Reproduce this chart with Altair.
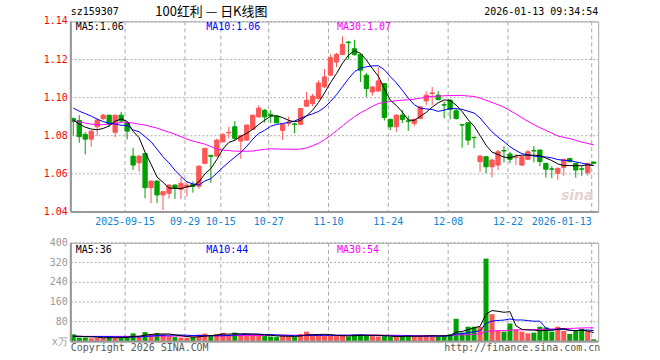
import altair as alt
import pandas as pd
import numpy as np

# ---------------- data ----------------
opens = [1.0890, 1.0880, 1.0807, 1.0782, 1.0847, 1.0890, 1.0908, 1.0818, 1.0908, 1.0868,
         1.0693, 1.0658, 1.0707, 1.0527, 1.0562, 1.0489, 1.0498, 1.0541, 1.0519, 1.0530,
         1.0545, 1.0535, 1.0655, 1.0697, 1.0693, 1.0768, 1.0815, 1.0847, 1.0772, 1.0777,
         1.0833, 1.0899, 1.0934, 1.0912, 1.0903, 1.0828, 1.0866, 1.0862, 1.0860, 1.0955,
         1.0969, 1.0996, 1.1057, 1.1118, 1.1187, 1.1227, 1.1292, 1.1257, 1.1227, 1.1118,
         1.1030, 1.1035, 1.1074, 1.0886, 1.0847, 1.0908, 1.0878, 1.0865, 1.0891, 1.0983,
         1.1022, 1.1013, 1.0963, 1.0987, 1.0931, 1.0858, 1.0868, 1.0792, 1.0664, 1.0690,
         1.0637, 1.0646, 1.0722, 1.0704, 1.0686, 1.0646, 1.0676, 1.0722, 1.0725, 1.0655,
         1.0626, 1.0603, 1.0634, 1.0681, 1.0655, 1.0626, 1.0606, 1.0662]
closes = [1.0875, 1.0795, 1.0782, 1.0824, 1.0882, 1.0908, 1.0861, 1.0908, 1.0878, 1.0824,
          1.0646, 1.0693, 1.0527, 1.0562, 1.0489, 1.0506, 1.0541, 1.0524, 1.0550, 1.0540,
          1.0533, 1.0640, 1.0734, 1.0692, 1.0777, 1.0805, 1.0818, 1.0786, 1.0800, 1.0856,
          1.0908, 1.0945, 1.0899, 1.0905, 1.0868, 1.0860, 1.0872, 1.0860, 1.0943, 1.0986,
          1.1008, 1.1077, 1.1109, 1.1210, 1.1227, 1.1280, 1.1289, 1.1227, 1.1144, 1.1048,
          1.1056, 1.1088, 1.0896, 1.0847, 1.0908, 1.0886, 1.0876, 1.0886, 1.0952, 1.1013,
          1.1025, 1.0990, 1.0961, 1.0938, 1.0891, 1.0856, 1.0777, 1.0790, 1.0693, 1.0637,
          1.0672, 1.0716, 1.0720, 1.0676, 1.0688, 1.0690, 1.0716, 1.0720, 1.0664, 1.0624,
          1.0624, 1.0629, 1.0676, 1.0664, 1.0620, 1.0624, 1.0655, 1.0655]
highs = [1.0895, 1.0908, 1.0820, 1.0830, 1.0892, 1.0915, 1.0910, 1.0910, 1.0925, 1.0870,
         1.0737, 1.0700, 1.0710, 1.0565, 1.0565, 1.0510, 1.0545, 1.0545, 1.0582, 1.0560,
         1.0560, 1.0645, 1.0736, 1.0698, 1.0785, 1.0815, 1.0847, 1.0877, 1.0805, 1.0858,
         1.0910, 1.0960, 1.0940, 1.0934, 1.0905, 1.0865, 1.0900, 1.0865, 1.0946, 1.1031,
         1.1020, 1.1090, 1.1150, 1.1227, 1.1235, 1.1322, 1.1297, 1.1304, 1.1230, 1.1130,
         1.1060, 1.1161, 1.1076, 1.0890, 1.0912, 1.0935, 1.0906, 1.0890, 1.0955, 1.1034,
         1.1056, 1.1034, 1.0980, 1.0990, 1.0945, 1.0858, 1.0870, 1.0792, 1.0700, 1.0692,
         1.0680, 1.0725, 1.0745, 1.0715, 1.0705, 1.0692, 1.0725, 1.0745, 1.0727, 1.0657,
         1.0640, 1.0632, 1.0680, 1.0683, 1.0657, 1.0640, 1.0657, 1.0664]
lows = [1.0800, 1.0763, 1.0702, 1.0742, 1.0800, 1.0882, 1.0847, 1.0793, 1.0870, 1.0780,
        1.0620, 1.0611, 1.0472, 1.0446, 1.0446, 1.0410, 1.0470, 1.0468, 1.0467, 1.0480,
        1.0501, 1.0520, 1.0650, 1.0552, 1.0690, 1.0765, 1.0786, 1.0775, 1.0680, 1.0775,
        1.0830, 1.0895, 1.0869, 1.0868, 1.0865, 1.0778, 1.0850, 1.0812, 1.0855, 1.0952,
        1.0955, 1.0990, 1.1050, 1.1115, 1.1160, 1.1225, 1.1200, 1.1220, 1.1082, 1.1004,
        1.1010, 1.1030, 1.0880, 1.0830, 1.0820, 1.0866, 1.0825, 1.0850, 1.0888, 1.0961,
        1.0961, 1.0985, 1.0891, 1.0886, 1.0885, 1.0737, 1.0751, 1.0734, 1.0611, 1.0603,
        1.0582, 1.0620, 1.0660, 1.0655, 1.0646, 1.0640, 1.0672, 1.0660, 1.0640, 1.0580,
        1.0577, 1.0568, 1.0590, 1.0660, 1.0580, 1.0590, 1.0590, 1.0652]
volumes = [29, 16, 16, 13, 16, 15, 18, 15, 16, 22,
           33, 20, 38, 30, 33, 30, 22, 18, 16, 15,
           18, 28, 32, 25, 30, 35, 28, 36, 28, 30,
           28, 25, 22, 20, 18, 24, 22, 18, 30, 40,
           28, 26, 22, 24, 22, 24, 20, 28, 30, 26,
           22, 20, 22, 18, 20, 22, 25, 20, 22, 24,
           26, 20, 24, 29, 92, 36, 60, 60, 60, 336,
           111, 45, 40, 73, 49, 40, 33, 36, 60, 57,
           40, 60, 43, 31, 45, 52, 43, 9]

# moving-average values visible before enough candles are on screen
ma5_head = [1.0882, 1.0861, 1.0845, 1.0835]
ma10_head = [1.0945, 1.0929, 1.0916, 1.0903, 1.0887, 1.0874, 1.0866, 1.0861, 1.0855]
ma30_head = [1.0876, 1.0874, 1.0866, 1.0861, 1.0858, 1.0858, 1.0861, 1.0863, 1.0871, 1.0871,
             1.0866, 1.0861, 1.0856, 1.0848, 1.0840, 1.0829, 1.0819, 1.0808, 1.0795, 1.0782,
             1.0772, 1.0764, 1.0756, 1.0743, 1.0730, 1.0725, 1.0722, 1.0719, 1.0719]
vma5_head = [22, 21, 20, 19]
vma10_head = [21, 21, 20, 20, 20, 20, 20, 19, 19]
vma30_head = [21, 21, 21, 21, 21, 21, 21, 21, 21, 21, 21, 21, 22, 22, 22, 22, 22, 22, 22, 22,
              22, 23, 23, 23, 23, 23, 23, 24, 24]

label_idx = [9, 19, 25, 33, 43, 53, 63, 73, 87]
label_txt = ["2025-09-15", "09-29", "10-15", "10-27", "11-10", "11-24", "12-08", "12-22", "2026-01-13"]
price_ticks = [1.04, 1.06, 1.08, 1.10, 1.12, 1.14]
price_tick_txt = ["1.04", "1.06", "1.08", "1.10", "1.12", "1.14"]
vol_ticks = [0, 80, 160, 240, 320, 400]
vol_tick_txt = ["x万", "80", "160", "240", "320", "400"]

# ---------------- styling ----------------
RED = "#ff5555"
GREEN = "#00a000"
MONO = "DejaVu Sans Mono"
W = 529
H1 = 191
H2 = 99
LEFT, TOP, RIGHT, BOTTOM = 70, 21, 61, 18


def moving(series, n, head):
    s = pd.Series(series, dtype=float).rolling(n).mean().tolist()
    return list(head) + s[len(head):]


n = len(closes)
idx = list(range(n))
df = pd.DataFrame({"i": idx, "open": opens, "high": highs, "low": lows,
                   "close": closes, "vol": volumes})
df["dir"] = np.where(df["close"] >= df["open"], "up", "down")
df["ma5"] = moving(closes, 5, ma5_head)
df["ma10"] = moving(closes, 10, ma10_head)
df["ma30"] = moving(closes, 30, ma30_head)
df["vma5"] = moving(volumes, 5, vma5_head)
df["vma10"] = moving(volumes, 10, vma10_head)
df["vma30"] = moving(volumes, 30, vma30_head)

labels = pd.DataFrame({"i": label_idx, "t": label_txt})
pticks = pd.DataFrame({"v": price_ticks, "t": price_tick_txt})
vticks = pd.DataFrame({"v": vol_ticks, "t": vol_tick_txt})

xs = alt.Scale(domain=[-0.4167, 87.75], nice=False, zero=False)
ys = alt.Scale(domain=[1.04, 1.14], nice=False, zero=False)
vs = alt.Scale(domain=[0, 400], nice=False, zero=False)
cscale = alt.Scale(domain=["up", "down"], range=[RED, GREEN])

base = alt.Chart(df)
one = pd.DataFrame({"t": [""]})


def X(field):
    return alt.X(field, scale=xs, axis=None)


def YP(field):
    return alt.Y(field, scale=ys, axis=None)


def YV(field):
    return alt.Y(field, scale=vs, axis=None)


def label(text, x, y, color="#000000", align="left", font=MONO, size=10, **kw):
    return alt.Chart(pd.DataFrame({"t": [text]})).mark_text(
        align=align, baseline="middle", font=font, fontSize=size, color=color, **kw).encode(
        x=alt.value(x), y=alt.value(y), text="t:N")


def edge_rules(h):
    left = alt.Chart(one).mark_rule(color="#999999", strokeWidth=2).encode(
        x=alt.value(0), y=alt.value(0), y2=alt.value(h))
    bottom = alt.Chart(one).mark_rule(color="#999999", strokeWidth=2).encode(
        x=alt.value(0), x2=alt.value(W), y=alt.value(h))
    return left, bottom


# invisible frame that fixes the page bounds (left/top/right edges)
frame_top = alt.Chart(one).mark_rule(opacity=0, strokeWidth=1, strokeCap="butt").encode(
    x=alt.value(-LEFT), x2=alt.value(W + RIGHT), y=alt.value(-TOP + 0.5))
frame_bottom = alt.Chart(one).mark_rule(opacity=0, strokeWidth=1, strokeCap="butt").encode(
    x=alt.value(-LEFT), x2=alt.value(W + RIGHT), y=alt.value(H2 + BOTTOM - 0.5))

# ---------------- price panel ----------------
vgrid_main = alt.Chart(labels).mark_rule(color="#aaaaaa", strokeDash=[4, 3], strokeWidth=1, xOffset=-2).encode(
    x=X("i:Q"), y=alt.value(0), y2=alt.value(H1))
hgrid_main = alt.Chart(pticks).mark_rule(color="#aaaaaa", strokeDash=[2, 2], strokeWidth=1).encode(
    y=YP("v:Q"), x=alt.value(0), x2=alt.value(W))
ylab_main = alt.Chart(pticks).mark_text(align="right", baseline="middle", font=MONO, fontSize=10,
                                        color="#ff0000", dx=-3).encode(
    y=YP("v:Q"), x=alt.value(0), text="t:N")

wicks = base.mark_rule(strokeWidth=1).encode(
    x=X("i:Q"), y=YP("low:Q"), y2="high:Q",
    color=alt.Color("dir:N", scale=cscale, legend=None))

bodies = base.transform_calculate(x0="datum.i - 0.36", x1="datum.i + 0.36").mark_rect(strokeWidth=1).encode(
    x=X("x0:Q"), x2="x1:Q",
    y=YP("open:Q"), y2="close:Q",
    color=alt.Color("dir:N", scale=cscale, legend=None),
    stroke=alt.Stroke("dir:N", scale=cscale, legend=None))

l5 = base.mark_line(color="#000000", strokeWidth=1).encode(x=X("i:Q"), y=YP("ma5:Q"))
l10 = base.mark_line(color="#0000ff", strokeWidth=1).encode(x=X("i:Q"), y=YP("ma10:Q"))
l30 = base.mark_line(color="#ff00ff", strokeWidth=1).encode(x=X("i:Q"), y=YP("ma30:Q"))

xlab_c = alt.Chart(labels).transform_filter("datum.i < 87").mark_text(
    align="center", baseline="middle", font=MONO, fontSize=10, color="#0a84d6", dx=-2).encode(
    x=X("i:Q"), y=alt.value(H1 + 10), text="t:N")
xlab_r = alt.Chart(labels).transform_filter("datum.i >= 87").mark_text(
    align="right", baseline="middle", font=MONO, fontSize=10, color="#0a84d6", dx=-2).encode(
    x=X("i:Q"), y=alt.value(H1 + 10), text="t:N")

m_left, m_bottom = edge_rules(H1)

main = alt.layer(
    frame_top, hgrid_main, vgrid_main, wicks, bodies, l30, l10, l5, m_left, m_bottom, ylab_main,
    label("sina", W - 21, H1 - 16, color="#e6d2d2", align="center", font="DejaVu Sans", size=14,
          fontStyle="italic", fontWeight="bold"),
    label("MA5:1.06", 5, 6),
    label("MA10:1.06", 136, 6, color="#0000ff"),
    label("MA30:1.07", 267, 6, color="#ff00ff"),
    label("sz159307", 0, -9),
    label("100红利 — 日K线图", 141, -9, align="center", font="Noto Sans CJK SC", size=13),
    label("2026-01-13 09:34:54", 529, -9, align="right"),
    xlab_c, xlab_r,
).properties(width=W, height=H1)

# ---------------- volume panel ----------------
vgrid_vol = alt.Chart(labels).mark_rule(color="#aaaaaa", strokeDash=[4, 3], strokeWidth=1, xOffset=-2).encode(
    x=X("i:Q"), y=alt.value(0), y2=alt.value(H2))
hgrid_vol = alt.Chart(vticks).mark_rule(color="#aaaaaa", strokeDash=[2, 2], strokeWidth=1).encode(
    y=YV("v:Q"), x=alt.value(0), x2=alt.value(W))
ylab_vol = alt.Chart(vticks).mark_text(align="right", baseline="middle", font=MONO, fontSize=10,
                                       color="#999999", dx=-3).encode(
    y=YV("v:Q"), x=alt.value(0), text="t:N")

vbars = base.transform_calculate(x0="datum.i - 0.42", x1="datum.i + 0.42").mark_rect().encode(
    x=X("x0:Q"), x2="x1:Q",
    y=YV("vol:Q"), y2=alt.datum(0),
    color=alt.Color("dir:N", scale=cscale, legend=None))

v5 = base.mark_line(color="#000000", strokeWidth=1).encode(x=X("i:Q"), y=YV("vma5:Q"))
v10 = base.mark_line(color="#0000ff", strokeWidth=1).encode(x=X("i:Q"), y=YV("vma10:Q"))
v30 = base.mark_line(color="#ff00ff", strokeWidth=1).encode(x=X("i:Q"), y=YV("vma30:Q"))

v_left, v_bottom = edge_rules(H2)

vol = alt.layer(
    frame_bottom, hgrid_vol, vgrid_vol, vbars, v30, v10, v5, v_left, v_bottom, ylab_vol,
    label("MA5:36", 5, 7),
    label("MA10:44", 136, 7, color="#0000ff"),
    label("MA30:54", 267, 7, color="#ff00ff"),
    label("Copyright 2026 SINA.COM", 0, H2 + 7, color="#555555"),
    label("http://finance.sina.com.cn", 531, H2 + 7, color="#555555", align="right"),
).properties(width=W, height=H2)

chart = alt.vconcat(main, vol, spacing=31, bounds="flush").properties(
    padding=0,
    background="#ffffff",
).configure_view(stroke="#aaaaaa", strokeWidth=1)

chart.save("out.html", embed_options={"renderer": "svg", "actions": False})
